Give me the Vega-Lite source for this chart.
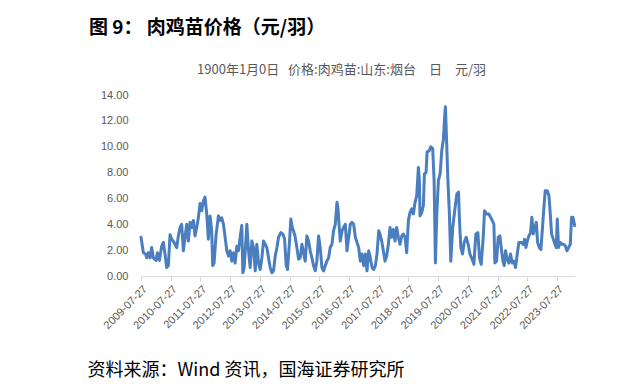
{
  "$schema": "https://vega.github.io/schema/vega-lite/v6.json",
  "width": 434,
  "height": 181,
  "autosize": {"type": "none"},
  "padding": {"left": 141, "top": 95, "right": 62, "bottom": 113},
  "background": "white",
  "config": {"view": {"stroke": null}, "font": "Noto Sans CJK SC"},
  "title": {"text": "图 9： 肉鸡苗价格（元/羽）", "anchor": "start", "frame": "group", "dx": -52, "offset": 10, "fontSize": 19, "fontWeight": "bold", "color": "#000000", "font": "Noto Sans CJK SC", "baseline": "alphabetic"},
  "data": {"values": [
    {"date": "2009-07-27", "price": 3.0},
    {"date": "2009-08-25", "price": 1.8},
    {"date": "2009-09-22", "price": 1.7},
    {"date": "2009-10-05", "price": 1.4},
    {"date": "2009-10-25", "price": 1.8},
    {"date": "2009-11-15", "price": 1.4},
    {"date": "2009-12-05", "price": 2.2},
    {"date": "2009-12-26", "price": 1.4},
    {"date": "2010-01-28", "price": 1.2},
    {"date": "2010-02-13", "price": 1.8},
    {"date": "2010-03-10", "price": 1.2},
    {"date": "2010-04-07", "price": 2.3},
    {"date": "2010-04-28", "price": 2.6},
    {"date": "2010-05-18", "price": 1.7},
    {"date": "2010-06-08", "price": 0.65},
    {"date": "2010-06-28", "price": 0.8},
    {"date": "2010-07-19", "price": 3.2},
    {"date": "2010-08-08", "price": 2.85},
    {"date": "2010-09-06", "price": 2.6},
    {"date": "2010-10-09", "price": 2.2},
    {"date": "2010-10-29", "price": 3.1},
    {"date": "2010-11-19", "price": 3.75},
    {"date": "2010-12-09", "price": 4.0},
    {"date": "2010-12-30", "price": 1.95},
    {"date": "2011-01-19", "price": 3.0},
    {"date": "2011-02-09", "price": 4.0},
    {"date": "2011-03-01", "price": 2.7},
    {"date": "2011-03-22", "price": 4.15},
    {"date": "2011-04-11", "price": 3.75},
    {"date": "2011-05-02", "price": 4.3},
    {"date": "2011-05-22", "price": 3.1},
    {"date": "2011-06-12", "price": 3.75},
    {"date": "2011-07-02", "price": 4.5},
    {"date": "2011-07-23", "price": 5.6},
    {"date": "2011-08-12", "price": 5.05},
    {"date": "2011-09-02", "price": 5.8},
    {"date": "2011-09-22", "price": 6.1},
    {"date": "2011-10-13", "price": 4.8},
    {"date": "2011-11-02", "price": 2.85},
    {"date": "2011-11-23", "price": 4.65},
    {"date": "2011-12-13", "price": 3.5},
    {"date": "2011-12-26", "price": 0.8},
    {"date": "2012-01-11", "price": 1.0},
    {"date": "2012-02-05", "price": 3.2},
    {"date": "2012-03-05", "price": 4.65},
    {"date": "2012-03-26", "price": 4.3},
    {"date": "2012-04-15", "price": 4.5},
    {"date": "2012-05-06", "price": 4.0},
    {"date": "2012-05-26", "price": 3.0},
    {"date": "2012-06-16", "price": 1.95},
    {"date": "2012-07-06", "price": 1.55},
    {"date": "2012-07-27", "price": 1.95},
    {"date": "2012-08-16", "price": 1.15},
    {"date": "2012-09-06", "price": 1.8},
    {"date": "2012-09-26", "price": 1.0},
    {"date": "2012-10-17", "price": 2.3},
    {"date": "2012-11-06", "price": 1.95},
    {"date": "2012-11-27", "price": 3.0},
    {"date": "2012-12-17", "price": 3.9},
    {"date": "2012-12-30", "price": 0.25},
    {"date": "2013-01-15", "price": 0.65},
    {"date": "2013-02-05", "price": 2.7},
    {"date": "2013-02-17", "price": 4.0},
    {"date": "2013-03-10", "price": 1.95},
    {"date": "2013-03-30", "price": 0.65},
    {"date": "2013-04-20", "price": 2.7},
    {"date": "2013-05-10", "price": 2.2},
    {"date": "2013-05-31", "price": 0.4},
    {"date": "2013-06-20", "price": 2.45},
    {"date": "2013-07-11", "price": 1.0},
    {"date": "2013-07-31", "price": 0.5},
    {"date": "2013-08-21", "price": 1.4},
    {"date": "2013-09-10", "price": 2.7},
    {"date": "2013-10-01", "price": 2.45},
    {"date": "2013-10-21", "price": 2.2},
    {"date": "2013-11-11", "price": 1.4},
    {"date": "2013-12-01", "price": 0.65},
    {"date": "2013-12-22", "price": 0.25},
    {"date": "2014-01-11", "price": 0.4},
    {"date": "2014-02-01", "price": 1.55},
    {"date": "2014-02-22", "price": 2.2},
    {"date": "2014-03-14", "price": 3.0},
    {"date": "2014-04-11", "price": 3.35},
    {"date": "2014-05-06", "price": 3.25},
    {"date": "2014-05-27", "price": 2.85},
    {"date": "2014-06-16", "price": 0.8},
    {"date": "2014-07-02", "price": 0.5},
    {"date": "2014-07-27", "price": 2.7},
    {"date": "2014-08-12", "price": 4.4},
    {"date": "2014-08-29", "price": 3.75},
    {"date": "2014-09-14", "price": 3.5},
    {"date": "2014-10-05", "price": 3.0},
    {"date": "2014-10-25", "price": 2.2},
    {"date": "2014-11-15", "price": 1.3},
    {"date": "2014-12-05", "price": 1.4},
    {"date": "2014-12-26", "price": 2.45},
    {"date": "2015-01-15", "price": 1.8},
    {"date": "2015-02-05", "price": 1.15},
    {"date": "2015-02-25", "price": 3.1},
    {"date": "2015-03-18", "price": 2.7},
    {"date": "2015-04-07", "price": 1.95},
    {"date": "2015-04-28", "price": 1.4},
    {"date": "2015-05-18", "price": 0.8},
    {"date": "2015-06-08", "price": 0.4},
    {"date": "2015-06-28", "price": 1.15},
    {"date": "2015-07-19", "price": 3.1},
    {"date": "2015-08-08", "price": 2.2},
    {"date": "2015-08-29", "price": 0.65},
    {"date": "2015-09-18", "price": 0.4},
    {"date": "2015-10-09", "price": 0.8},
    {"date": "2015-10-29", "price": 1.15},
    {"date": "2015-11-19", "price": 1.4},
    {"date": "2015-12-09", "price": 2.2},
    {"date": "2015-12-30", "price": 2.45},
    {"date": "2016-01-19", "price": 3.5},
    {"date": "2016-02-09", "price": 4.0},
    {"date": "2016-03-01", "price": 5.7},
    {"date": "2016-03-14", "price": 5.2},
    {"date": "2016-03-26", "price": 4.0},
    {"date": "2016-04-11", "price": 2.7},
    {"date": "2016-05-02", "price": 3.5},
    {"date": "2016-05-22", "price": 3.75},
    {"date": "2016-06-12", "price": 4.0},
    {"date": "2016-07-02", "price": 1.95},
    {"date": "2016-07-23", "price": 3.0},
    {"date": "2016-08-12", "price": 4.0},
    {"date": "2016-09-02", "price": 4.15},
    {"date": "2016-09-22", "price": 4.0},
    {"date": "2016-10-13", "price": 3.0},
    {"date": "2016-11-02", "price": 2.6},
    {"date": "2016-11-23", "price": 2.2},
    {"date": "2016-12-13", "price": 1.15},
    {"date": "2017-01-03", "price": 1.7},
    {"date": "2017-01-23", "price": 0.8},
    {"date": "2017-02-13", "price": 1.7},
    {"date": "2017-03-05", "price": 0.4},
    {"date": "2017-03-26", "price": 1.95},
    {"date": "2017-04-15", "price": 1.4},
    {"date": "2017-05-06", "price": 0.65},
    {"date": "2017-05-26", "price": 0.5},
    {"date": "2017-06-16", "price": 0.8},
    {"date": "2017-07-06", "price": 1.7},
    {"date": "2017-07-27", "price": 3.5},
    {"date": "2017-08-12", "price": 3.25},
    {"date": "2017-09-02", "price": 2.7},
    {"date": "2017-09-22", "price": 1.95},
    {"date": "2017-10-13", "price": 1.15},
    {"date": "2017-11-02", "price": 1.55},
    {"date": "2017-11-23", "price": 2.45},
    {"date": "2017-12-13", "price": 3.75},
    {"date": "2018-01-03", "price": 3.0},
    {"date": "2018-01-23", "price": 3.6},
    {"date": "2018-02-13", "price": 2.7},
    {"date": "2018-03-05", "price": 3.75},
    {"date": "2018-03-26", "price": 3.0},
    {"date": "2018-04-15", "price": 2.45},
    {"date": "2018-05-06", "price": 3.1},
    {"date": "2018-05-26", "price": 3.25},
    {"date": "2018-06-16", "price": 3.0},
    {"date": "2018-07-06", "price": 1.8},
    {"date": "2018-07-27", "price": 4.3},
    {"date": "2018-08-16", "price": 4.9},
    {"date": "2018-09-06", "price": 5.2},
    {"date": "2018-09-26", "price": 4.8},
    {"date": "2018-10-17", "price": 5.7},
    {"date": "2018-11-06", "price": 6.2},
    {"date": "2018-11-27", "price": 8.4},
    {"date": "2018-12-09", "price": 7.4},
    {"date": "2018-12-17", "price": 4.65},
    {"date": "2019-01-07", "price": 4.9},
    {"date": "2019-01-27", "price": 5.45},
    {"date": "2019-02-09", "price": 7.9},
    {"date": "2019-03-01", "price": 8.0},
    {"date": "2019-03-14", "price": 9.6},
    {"date": "2019-04-11", "price": 9.7},
    {"date": "2019-04-28", "price": 10.0},
    {"date": "2019-05-22", "price": 9.85},
    {"date": "2019-06-08", "price": 7.4},
    {"date": "2019-06-24", "price": 1.0},
    {"date": "2019-07-11", "price": 4.8},
    {"date": "2019-07-31", "price": 7.4},
    {"date": "2019-08-21", "price": 7.9},
    {"date": "2019-09-10", "price": 9.7},
    {"date": "2019-10-01", "price": 10.6},
    {"date": "2019-10-13", "price": 12.05},
    {"date": "2019-10-25", "price": 13.1},
    {"date": "2019-11-11", "price": 10.0},
    {"date": "2019-11-23", "price": 7.65},
    {"date": "2019-12-13", "price": 4.8},
    {"date": "2019-12-30", "price": 1.15},
    {"date": "2020-01-23", "price": 3.75},
    {"date": "2020-02-21", "price": 5.3},
    {"date": "2020-03-14", "price": 6.35},
    {"date": "2020-04-03", "price": 6.5},
    {"date": "2020-04-15", "price": 4.3},
    {"date": "2020-05-02", "price": 2.2},
    {"date": "2020-05-22", "price": 1.7},
    {"date": "2020-06-12", "price": 2.6},
    {"date": "2020-07-06", "price": 3.0},
    {"date": "2020-07-31", "price": 2.45},
    {"date": "2020-08-21", "price": 1.7},
    {"date": "2020-09-18", "price": 1.3},
    {"date": "2020-10-09", "price": 0.9},
    {"date": "2020-11-02", "price": 3.25},
    {"date": "2020-11-27", "price": 3.35},
    {"date": "2020-12-17", "price": 1.4},
    {"date": "2021-01-07", "price": 0.9},
    {"date": "2021-02-01", "price": 3.0},
    {"date": "2021-02-17", "price": 5.05},
    {"date": "2021-03-14", "price": 4.8},
    {"date": "2021-04-11", "price": 4.8},
    {"date": "2021-05-02", "price": 4.55},
    {"date": "2021-05-22", "price": 4.3},
    {"date": "2021-06-12", "price": 4.0},
    {"date": "2021-06-24", "price": 1.0},
    {"date": "2021-07-15", "price": 1.15},
    {"date": "2021-08-04", "price": 3.0},
    {"date": "2021-08-25", "price": 3.1},
    {"date": "2021-09-10", "price": 2.2},
    {"date": "2021-10-01", "price": 1.15},
    {"date": "2021-10-17", "price": 0.8},
    {"date": "2021-11-02", "price": 1.95},
    {"date": "2021-11-23", "price": 1.3},
    {"date": "2021-12-13", "price": 1.0},
    {"date": "2022-01-03", "price": 1.7},
    {"date": "2022-01-23", "price": 1.0},
    {"date": "2022-02-13", "price": 1.15},
    {"date": "2022-03-05", "price": 0.65},
    {"date": "2022-03-26", "price": 1.7},
    {"date": "2022-04-15", "price": 2.6},
    {"date": "2022-05-14", "price": 2.6},
    {"date": "2022-06-08", "price": 2.45},
    {"date": "2022-06-24", "price": 2.85},
    {"date": "2022-07-11", "price": 2.2},
    {"date": "2022-07-27", "price": 2.7},
    {"date": "2022-08-16", "price": 3.1},
    {"date": "2022-09-06", "price": 3.35},
    {"date": "2022-09-22", "price": 4.55},
    {"date": "2022-10-09", "price": 3.25},
    {"date": "2022-10-29", "price": 3.75},
    {"date": "2022-11-15", "price": 4.15},
    {"date": "2022-12-01", "price": 2.6},
    {"date": "2022-12-22", "price": 2.2},
    {"date": "2023-01-11", "price": 2.05},
    {"date": "2023-02-01", "price": 3.9},
    {"date": "2023-02-17", "price": 5.3},
    {"date": "2023-03-05", "price": 6.6},
    {"date": "2023-03-30", "price": 6.6},
    {"date": "2023-04-20", "price": 6.2},
    {"date": "2023-05-06", "price": 4.8},
    {"date": "2023-05-22", "price": 3.25},
    {"date": "2023-06-12", "price": 2.85},
    {"date": "2023-07-02", "price": 2.45},
    {"date": "2023-07-19", "price": 2.2},
    {"date": "2023-07-31", "price": 4.4},
    {"date": "2023-08-16", "price": 2.2},
    {"date": "2023-09-06", "price": 2.6},
    {"date": "2023-09-26", "price": 2.45},
    {"date": "2023-10-17", "price": 2.45},
    {"date": "2023-11-06", "price": 2.35},
    {"date": "2023-11-27", "price": 1.95},
    {"date": "2023-12-17", "price": 2.2},
    {"date": "2024-01-07", "price": 2.45},
    {"date": "2024-01-23", "price": 4.55},
    {"date": "2024-02-09", "price": 4.55},
    {"date": "2024-03-01", "price": 3.9}
  ]},
  "mark": {"type": "line", "color": "#4a7ebf", "strokeWidth": 3, "strokeJoin": "round", "strokeCap": "round", "clip": false},
  "encoding": {
    "x": {
      "field": "date",
      "type": "temporal",
      "scale": {"type": "utc", "domain": [{"year": 2009, "month": 7, "date": 27, "utc": true}, {"year": 2024, "month": 3, "date": 5, "utc": true}]},
      "axis": {
        "values": [
          {"year": 2009, "month": 7, "date": 27, "utc": true},
          {"year": 2010, "month": 7, "date": 27, "utc": true},
          {"year": 2011, "month": 7, "date": 27, "utc": true},
          {"year": 2012, "month": 7, "date": 27, "utc": true},
          {"year": 2013, "month": 7, "date": 27, "utc": true},
          {"year": 2014, "month": 7, "date": 27, "utc": true},
          {"year": 2015, "month": 7, "date": 27, "utc": true},
          {"year": 2016, "month": 7, "date": 27, "utc": true},
          {"year": 2017, "month": 7, "date": 27, "utc": true},
          {"year": 2018, "month": 7, "date": 27, "utc": true},
          {"year": 2019, "month": 7, "date": 27, "utc": true},
          {"year": 2020, "month": 7, "date": 27, "utc": true},
          {"year": 2021, "month": 7, "date": 27, "utc": true},
          {"year": 2022, "month": 7, "date": 27, "utc": true},
          {"year": 2023, "month": 7, "date": 27, "utc": true}
        ],
        "labelExpr": "utcFormat(datum.value, '%Y-%m-%d')",
        "labelAngle": -45,
        "labelFontSize": 11,
        "labelColor": "#595959",
        "labelFont": "Liberation Sans",
        "labelFlush": false,
        "labelOverlap": false,
        "labelPadding": 2,
        "domainColor": "#d9d9d9",
        "tickColor": "#d9d9d9",
        "tickSize": 5,
        "grid": false,
        "title": "资料来源：Wind 资讯，国海证券研究所",
        "titleX": -54,
        "titleY": 99,
        "titleAlign": "left",
        "titleAnchor": "start",
        "titleBaseline": "alphabetic",
        "titleFontSize": 18,
        "titleFontWeight": "normal",
        "titleColor": "#000000",
        "titleFont": "Noto Sans CJK SC"
      }
    },
    "y": {
      "field": "price",
      "type": "quantitative",
      "scale": {"domain": [0, 14], "nice": false},
      "axis": {
        "values": [0, 2, 4, 6, 8, 10, 12, 14],
        "format": ".2f",
        "domain": false,
        "ticks": false,
        "grid": false,
        "labelPadding": 13,
        "labelFontSize": 11,
        "labelColor": "#595959",
        "labelFont": "Liberation Sans",
        "title": "1900年1月0日\u00a0\u00a0\u00a0价格:肉鸡苗:山东:烟台\u3000日\u3000元/羽",
        "titleAngle": 0,
        "titleX": 200,
        "titleY": -26,
        "titleAlign": "center",
        "titleBaseline": "middle",
        "titleFontSize": 13,
        "titleFontWeight": "normal",
        "titleColor": "#595959",
        "titleFont": "Noto Sans CJK SC"
      }
    }
  }
}
